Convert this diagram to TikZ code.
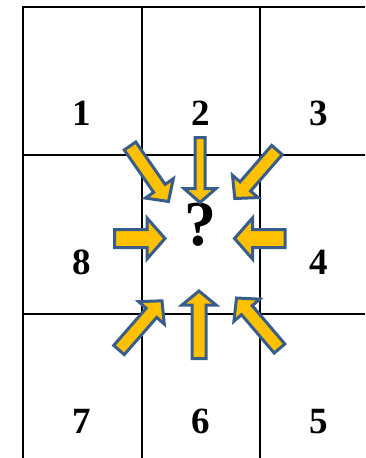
\documentclass[tikz,border=0pt]{standalone}
\usepackage{fontspec}
\setmainfont{Liberation Serif}
\usetikzlibrary{calc}
\definecolor{arrowline}{HTML}{385D8A}
\definecolor{arrowfill}{HTML}{FFC000}
\tikzset{
  gridline/.style={line width=2pt, black},
  cellnum/.style={font=\fontsize{37}{37}\selectfont\bfseries, anchor=base, inner sep=0pt},
  qmark/.style={font=\fontsize{64}{64}\selectfont\bfseries, anchor=base, inner sep=0pt},
  blockarrow/.style={draw=arrowline, fill=arrowfill, line width=3pt, line join=miter}
}
% #1 tail, #2 tip, #3 shaft half width, #4 head half width, #5 head length, #6 id
\newcommand\fatarrow[6]{%
  \coordinate (#6b) at ($(#2)!#5!(#1)$);
  \draw[blockarrow] ($(#1)!#3!90:(#2)$) -- ($(#6b)!#3!90:(#2)$) -- ($(#6b)!#4!90:(#2)$)
    -- (#2) -- ($(#6b)!#4!-90:(#2)$) -- ($(#6b)!#3!-90:(#2)$) -- ($(#1)!#3!-90:(#2)$) -- cycle;
}
\begin{document}
\begin{tikzpicture}[x=1pt,y=-1pt]
\useasboundingbox (0,0) rectangle (365,458);
\begin{scope}
\clip (0,0) rectangle (365,458);
% grid
\draw[gridline] (23.3,470) -- (23.3,6.7) -- (380,6.7);
\draw[gridline] (141.5,6.7) -- (141.5,470);
\draw[gridline] (259.5,6.7) -- (259.5,470);
\draw[gridline] (23.3,155) -- (380,155);
\draw[gridline] (23.3,314) -- (380,314);
\end{scope}
% numbers
\node[cellnum] (c1) at (82,125) {1};
\node[cellnum] (c2) at (200.5,125) {2};
\node[cellnum] (c3) at (318.5,125) {3};
\node[cellnum] (c8) at (82,274.5) {8};
\node[cellnum] (c4) at (319,274.5) {4};
\node[cellnum] (c7) at (82,433) {7};
\node[cellnum] (c6) at (200.5,433) {6};
\node[cellnum] (c5) at (318.5,433) {5};
\node[qmark] (q) at (200.5,245) {?};
% arrow end points
\coordinate (t1) at (130,146);   \coordinate (h1) at (168.5,201.5);
\coordinate (t2) at (200,137.5); \coordinate (h2) at (200,202.5);
\coordinate (t3) at (277,150);   \coordinate (h3) at (234.8,198.5);
\coordinate (t4) at (285,238.5); \coordinate (h4) at (234.5,238.5);
\coordinate (t5) at (279.5,348.5); \coordinate (h5) at (236.5,298);
\coordinate (t6) at (199,358.5); \coordinate (h6) at (199,291);
\coordinate (t7) at (119,350);   \coordinate (h7) at (162,300.8);
\coordinate (t8) at (114.5,238.5); \coordinate (h8) at (165,238.5);
% arrows
\fatarrow{t1}{h1}{7pt}{17pt}{16pt}{a1}
\fatarrow{t2}{h2}{5pt}{16pt}{14pt}{a2}
\fatarrow{t3}{h3}{7pt}{17pt}{16pt}{a3}
\fatarrow{t4}{h4}{9pt}{20.5pt}{18pt}{a4}
\fatarrow{t5}{h5}{7pt}{17pt}{16pt}{a5}
\fatarrow{t6}{h6}{7pt}{17pt}{14pt}{a6}
\fatarrow{t7}{h7}{7pt}{17pt}{16pt}{a7}
\fatarrow{t8}{h8}{9pt}{20.5pt}{18pt}{a8}
\end{tikzpicture}
\end{document}
